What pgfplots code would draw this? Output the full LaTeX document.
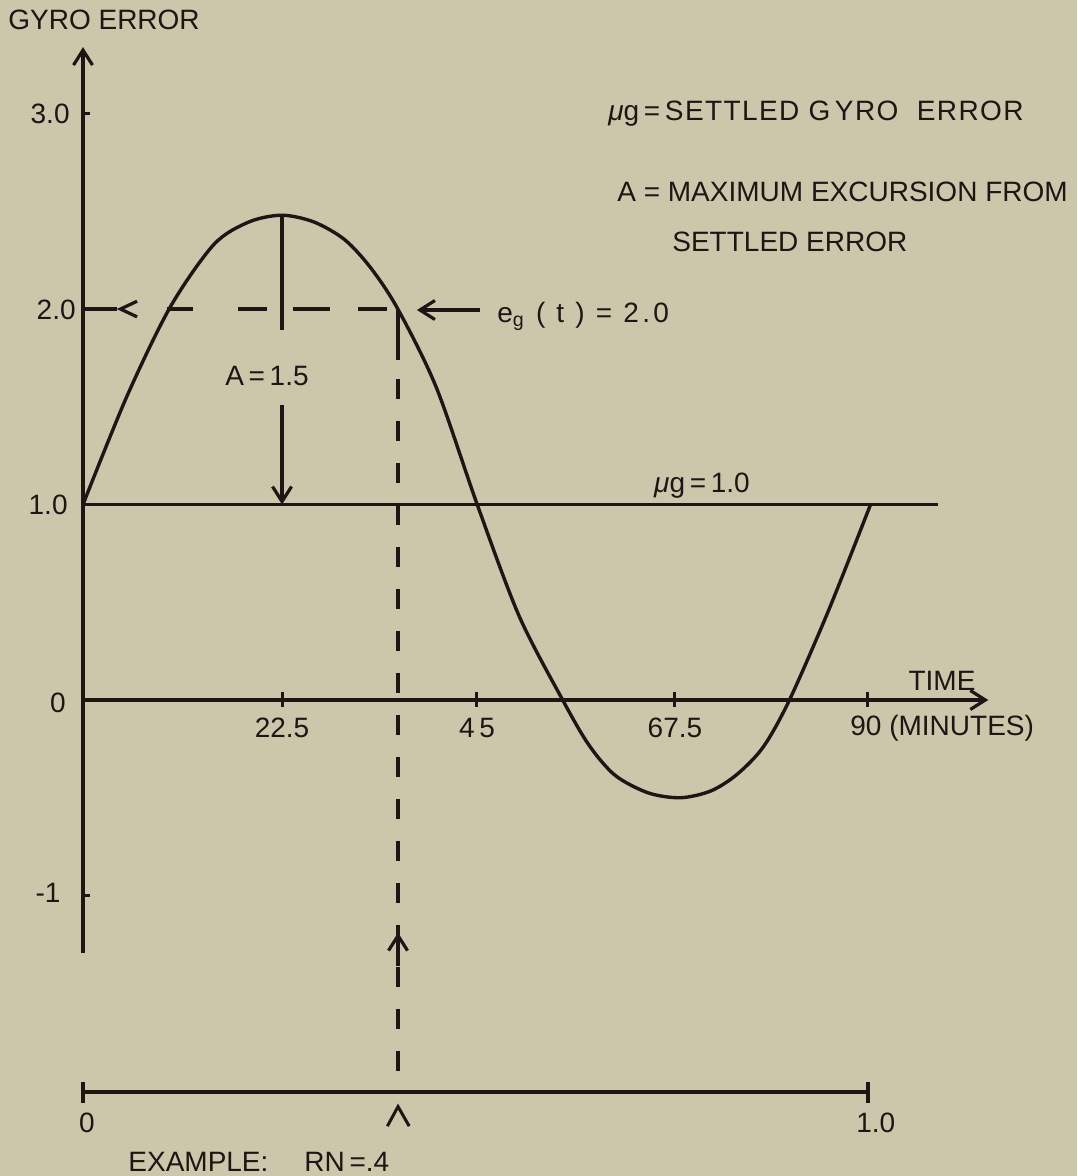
\documentclass[border=0pt]{standalone}
\usepackage{pgfplots}
\pgfplotsset{compat=1.18}
\usepackage{fontspec}
\setmainfont{Liberation Sans}
\usetikzlibrary{arrows.meta}

\definecolor{paper}{RGB}{203,199,171}
\definecolor{ink}{RGB}{32,20,20}

\newcommand{\mug}{{\itshape\char"03BC}g}
\newfontfamily\spaced[LetterSpace=12]{Liberation Sans}
\newfontfamily\wide[LetterSpace=5]{Liberation Sans}

\tikzset{
  barb/.style={-{Straight Barb[length=7.5pt,width=9.5pt,line width=1.6pt]}},
}

\begin{document}
\begin{tikzpicture}[
    every node/.style={font=\fontsize{14}{17}\selectfont, text=ink, inner sep=0pt},
]
\useasboundingbox (0,0) rectangle (538.5pt,588pt);
\fill[paper] (0,0) rectangle (538.5pt,588pt);

\begin{axis}[
    at={(0,0)}, anchor=south west,
    width=538.5pt, height=588pt,
    scale only axis,
    hide axis,
    clip=false,
    xmin=-9.516, xmax=113.97,
    ymin=-2.435, ymax=3.581,
]

% axes
\draw[ink, line width=1.8pt, barb] (0,-1.294) -- (0,3.34);
\draw[ink, line width=1.8pt, barb] (0,0) -- (103.8,0);
\draw[ink, line width=1.6pt] (0,3.0) -- (0.8,3.0);
\draw[ink, line width=1.6pt] (0,-1.0) -- (0.8,-1.0);
\pgfplotsinvokeforeach{22.82,45.17,67.87,90}{
  \draw[ink, line width=1.5pt] (#1,-0.035) -- (#1,0.04);
}

% settled error line
\addplot[ink, line width=1.6pt] coordinates {(0,1.0) (98.0,1.0)};

% gyro error curve
\addplot[ink, line width=1.7pt, smooth] coordinates {
  (0,1.00) (5,1.55) (10,2.01) (15,2.33) (19,2.445) (22.8,2.48)
  (26.5,2.445) (30,2.355) (33,2.21) (36.1,2.00) (40.5,1.60)
  (45.2,1.00) (50,0.43) (55,0.00) (58,-0.23) (61,-0.385)
  (64.8,-0.475) (68.5,-0.50) (72,-0.465) (75,-0.38) (78,-0.24)
  (81,0.00) (85.5,0.46) (90.3,1.00)
};

% e_g = 2.0 level, dashed
\draw[ink, line width=1.6pt] (0,2) -- (3.9,2);
\draw[ink, line width=1.6pt] (6.2,2.04) -- (4.3,2) -- (6.2,1.96);
\draw[ink, line width=1.6pt]
  (9.63,2) -- (12.61,2) (17.77,2) -- (21.10,2)
  (24.08,2) -- (28.32,2) (31.53,2) -- (34.85,2);

% vertical dashed line at RN = .4
\draw[ink, line width=1.6pt] (36.12,2) -- (36.12,1.74);
\draw[ink, line width=1.6pt, dash pattern=on 10pt off 11pt] (36.12,1.64) -- (36.12,-2.005);
\draw[ink, line width=1.6pt, barb] (36.12,-1.36) -- (36.12,-1.19);

% amplitude marks
\draw[ink, line width=1.6pt] (22.82,2.481) -- (22.82,1.893);
\draw[ink, line width=1.6pt, barb] (22.82,1.509) -- (22.82,1.0);
\node at (21.1,1.657) {A\,=\,1.5};

% arrow to e_g(t)
\draw[ink, line width=1.6pt, barb] (45.52,1.995) -- (38.29,1.995);
\node[anchor=base west] at (47.47,1.933)
  {\spaced e\textsubscript{g} ( t ) = 2.0};

% bottom RN scale
\draw[ink, line width=1.8pt] (0,-2.005) -- (90,-2.005);
\draw[ink, line width=1.8pt] (0,-1.954) -- (0,-2.061);
\draw[ink, line width=1.8pt] (90,-1.954) -- (90,-2.061);
\draw[ink, line width=1.5pt] (34.9,-2.18) -- (36.12,-2.08) -- (37.4,-2.18);
\node at (0.46,-2.164) {0};
\node at (90.9,-2.164) {1.0};
\node[anchor=west] at (5.16,-2.363) {EXAMPLE:\hspace{18pt}RN\,=.4};

% tick labels
\node[anchor=east] at (-1.49,3.0) {3.0};
\node[anchor=east] at (-0.8,1.995) {2.0};
\node[anchor=east] at (-1.72,1.0) {1.0};
\node at (-2.87,-0.015) {0};
\node at (-4.0,-0.987) {-1};
\node at (22.82,-0.143) {22.5};
\node at (45.17,-0.143) {4\,5};
\node at (67.87,-0.143) {67.5};
\node[anchor=west] at (87.94,-0.143) {90 (MINUTES)};
\node[anchor=base] at (98.49,0.051) {TIME};

% titles and legend text
\node[anchor=base west] at (-8.6,3.432) {GYRO ERROR};
\node[anchor=base west] at (60.19,2.962) {\wide\mug\,=\,SETTLED G\,YRO\ \ ERROR};
\node[anchor=base west] at (61.22,2.552) {A = MAXIMUM EXCURSION FROM};
\node[anchor=base west] at (67.53,2.292) {SETTLED ERROR};
\node[anchor=base] at (70.97,1.064) {\mug\,=\,1.0};

\end{axis}
\end{tikzpicture}
\end{document}
